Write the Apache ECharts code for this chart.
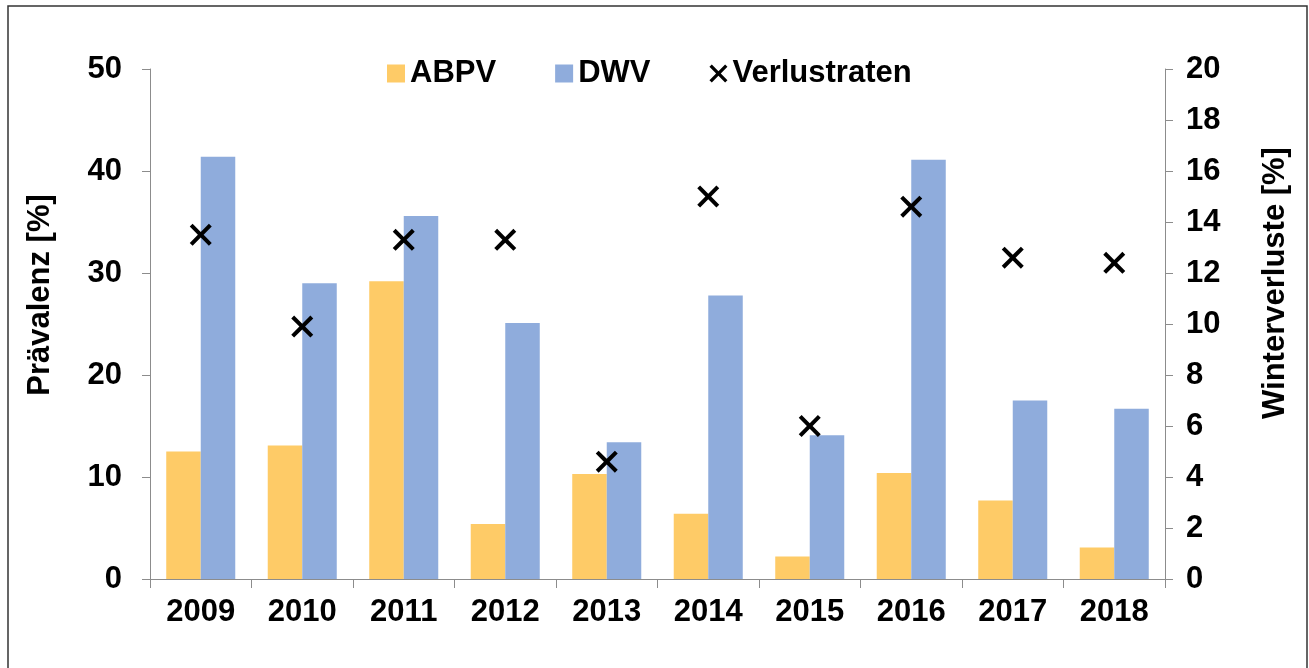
<!DOCTYPE html>
<html>
<head>
<meta charset="utf-8">
<script src="https://cdn.jsdelivr.net/npm/echarts@6/dist/echarts.min.js"></script>
<style>
  html, body { margin: 0; padding: 0; background: #fff; }
  #chart { width: 1309px; height: 668px; }
</style>
</head>
<body>
<div id="chart"></div>
<script>
// Jahre (Kategorien)
var years = ["2009", "2010", "2011", "2012", "2013", "2014", "2015", "2016", "2017", "2018"];
// Prävalenz [%] - linke Achse
var abpv = [12.5, 13.1, 29.2, 5.4, 10.3, 6.4, 2.2, 10.4, 7.7, 3.1];
var dwv = [41.4, 29.0, 35.6, 25.1, 13.4, 27.8, 14.1, 41.1, 17.5, 16.7];
// Winterverluste [%] - rechte Achse
var verlustraten = [13.5, 9.9, 13.3, 13.3, 4.6, 15.0, 6.0, 14.6, 12.6, 12.4];

var FONT = "'Liberation Sans', Arial, sans-serif";
var AXIS_COLOR = "#8c8c8c";
// X-Symbol als gefüllter Pfad
var CROSS = "path://M0,1.3L1.3,0L5,3.7L8.7,0L10,1.3L6.3,5L10,8.7L8.7,10L5,6.3L1.3,10L0,8.7L3.7,5Z";

var labelStyle = { color: "#000", fontFamily: FONT, fontWeight: "bold", fontSize: 31 };

var chart = echarts.init(document.getElementById("chart"));
chart.setOption({
  animation: false,
  grid: { left: 150, right: 144, top: 69, bottom: 89 },
  legend: {
    left: 382,
    top: 53,
    itemWidth: 18,
    itemHeight: 18,
    itemGap: 59,
    textStyle: labelStyle,
    data: [
      { name: "ABPV", icon: "rect" },
      { name: "DWV", icon: "rect" },
      { name: "Verlustraten", icon: CROSS }
    ]
  },
  graphic: [
    // Rahmen
    {
      type: "rect",
      shape: { x: 8, y: 6, width: 1299, height: 700 },
      style: { fill: "none", stroke: "#333", lineWidth: 1.5 },
      silent: true
    },
    {
      type: "text",
      x: 40, y: 295, rotation: Math.PI / 2,
      style: { text: "Prävalenz [%]", align: "center", verticalAlign: "middle",
        fill: "#000", font: "bold 31px " + FONT }
    },
    {
      type: "text",
      x: 1275, y: 283, rotation: Math.PI / 2,
      style: { text: "Winterverluste [%]", align: "center", verticalAlign: "middle",
        fill: "#000", font: "bold 31px " + FONT }
    }
  ],
  xAxis: {
    type: "category",
    data: years,
    axisLine: { show: true, lineStyle: { color: AXIS_COLOR } },
    axisTick: { show: true, length: 9, lineStyle: { color: AXIS_COLOR } },
    axisLabel: Object.assign({ margin: 18, interval: 0 }, labelStyle),
    splitLine: { show: false }
  },
  yAxis: [
    {
      type: "value",
      min: 0, max: 50, interval: 10,
      axisLine: { show: true, lineStyle: { color: AXIS_COLOR } },
      axisTick: { show: true, length: 8, lineStyle: { color: AXIS_COLOR } },
      axisLabel: Object.assign({ margin: 28 }, labelStyle),
      splitLine: { show: false }
    },
    {
      type: "value",
      position: "right",
      min: 0, max: 20, interval: 2,
      axisLine: { show: true, lineStyle: { color: AXIS_COLOR } },
      axisTick: { show: true, length: 8, lineStyle: { color: AXIS_COLOR } },
      axisLabel: Object.assign({ margin: 21 }, labelStyle),
      splitLine: { show: false }
    }
  ],
  series: [
    {
      name: "ABPV",
      type: "bar",
      data: abpv,
      barGap: "0%",
      barCategoryGap: "32%",
      itemStyle: { color: "#FECB67" }
    },
    {
      name: "DWV",
      type: "bar",
      data: dwv,
      barGap: "0%",
      barCategoryGap: "32%",
      itemStyle: { color: "#8FACDC" }
    },
    {
      name: "Verlustraten",
      type: "scatter",
      yAxisIndex: 1,
      data: verlustraten,
      symbol: CROSS,
      symbolSize: [22, 22],
      itemStyle: { color: "#000", opacity: 1 },
      z: 5
    }
  ]
});
</script>
</body>
</html>
